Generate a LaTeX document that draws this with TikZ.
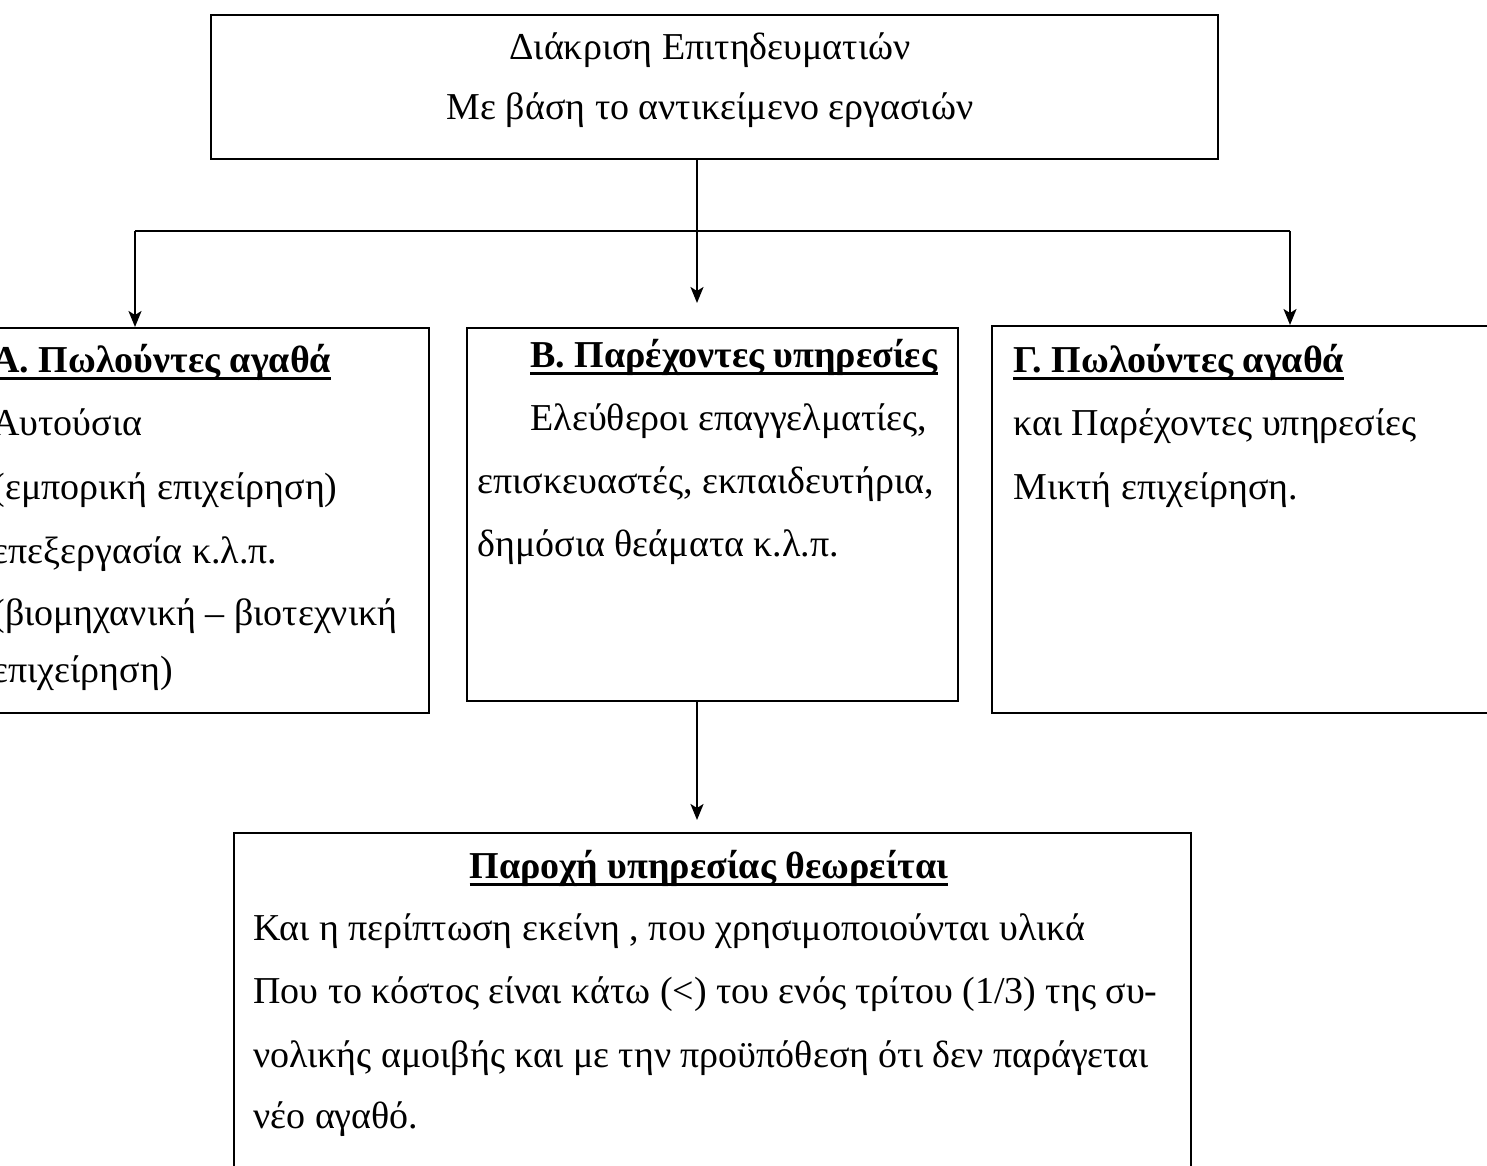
\documentclass[tikz,border=0pt]{standalone}
\usepackage{fontspec}
\setmainfont{Liberation Serif}
\usetikzlibrary{arrows.meta}
\tikzset{
  px/.style={x=0.5pt,y=-0.5pt},
  box/.style={draw=black,line width=1.2pt,rectangle,inner sep=0pt,anchor=north west},
  txt/.style={anchor=base west,inner sep=0pt,font=\fontsize{19}{22}\selectfont},
  ctxt/.style={anchor=base,inner sep=0pt,font=\fontsize{19}{22}\selectfont},
  link/.style={line width=1.1pt},
  arr/.style={line width=1.1pt,-{Stealth[length=8pt,width=6.5pt,inset=2pt]}}
}
\newcommand{\hdline}[1]{\setbox0=\hbox{\textbf{#1}}\leavevmode\rlap{\vrule height -2.6pt depth 4.1pt width \wd0}\box0}
\begin{document}
\begin{tikzpicture}[px]
\useasboundingbox (0,0) rectangle (1487,1166);
\clip (0,0) rectangle (1487,1166);
% boxes
\node[box,minimum width=503.5pt,minimum height=72pt] (top) at (210,14) {};
\node[box,minimum width=224pt,minimum height=192.5pt] (A) at (-20,327) {};
\node[box,minimum width=245.5pt,minimum height=186.5pt] (B) at (466,327) {};
\node[box,minimum width=259.5pt,minimum height=193.5pt] (G) at (991,325) {};
\node[box,minimum width=478.5pt,minimum height=184pt] (P) at (233,832) {};
% top text
\node[ctxt] (t1) at (710,60) {Διάκριση Επιτηδευματιών};
\node[ctxt] (t2) at (710,120) {Με βάση το αντικείμενο εργασιών};
% A text
\node[txt] (a1) at (-8,372) {\hdline{Α. Πωλούντες αγαθά}};
\node[txt] (a2) at (-8,435) {Αυτούσια};
\node[txt] (a3) at (-8,499) {(εμπορική επιχείρηση)};
\node[txt] (a4) at (-8,563) {επεξεργασία κ.λ.π.};
\node[txt] (a5) at (-8,625) {(βιομηχανική – βιοτεχνική};
\node[txt] (a6) at (-8,682) {επιχείρηση)};
% B text
\node[txt] (b1) at (530,367) {\hdline{Β. Παρέχοντες υπηρεσίες}};
\node[txt] (b2) at (530,430) {Ελεύθεροι επαγγελματίες,};
\node[txt] (b3) at (477,493) {επισκευαστές, εκπαιδευτήρια,};
\node[txt] (b4) at (477,556) {δημόσια θεάματα κ.λ.π.};
% G text
\node[txt] (g1) at (1013,372) {\hdline{Γ. Πωλούντες αγαθά}};
\node[txt] (g2) at (1013,435) {και Παρέχοντες υπηρεσίες};
\node[txt] (g3) at (1013,499) {Μικτή επιχείρηση.};
% bottom text
\node[ctxt] (p1) at (709,878) {\hdline{Παροχή υπηρεσίας θεωρείται}};
\node[txt] (p2) at (253,940) {Και η περίπτωση εκείνη , που χρησιμοποιούνται υλικά};
\node[txt] (p3) at (253,1003) {Που το κόστος είναι κάτω (<) του ενός τρίτου (1/3) της συ-};
\node[txt] (p4) at (253,1067) {νολικής αμοιβής και με την προϋπόθεση ότι δεν παράγεται};
\node[txt] (p5) at (253,1128) {νέο αγαθό.};
% connectors
\coordinate (hub) at (697,231);
\coordinate (lft) at (135,231);
\coordinate (rgt) at (1290,231);
\coordinate (mtip) at (697,303);
\coordinate (ptip) at (697,820);
\draw[link] (top.south -| hub) -- (hub);
\draw[link] (lft) -- (rgt);
\draw[arr] (lft) -- (lft |- A.north);
\draw[arr] (hub) -- (mtip);
\draw[arr] (rgt) -- (rgt |- G.north);
\draw[arr] (B.south -| hub) -- (ptip);
\end{tikzpicture}
\end{document}
